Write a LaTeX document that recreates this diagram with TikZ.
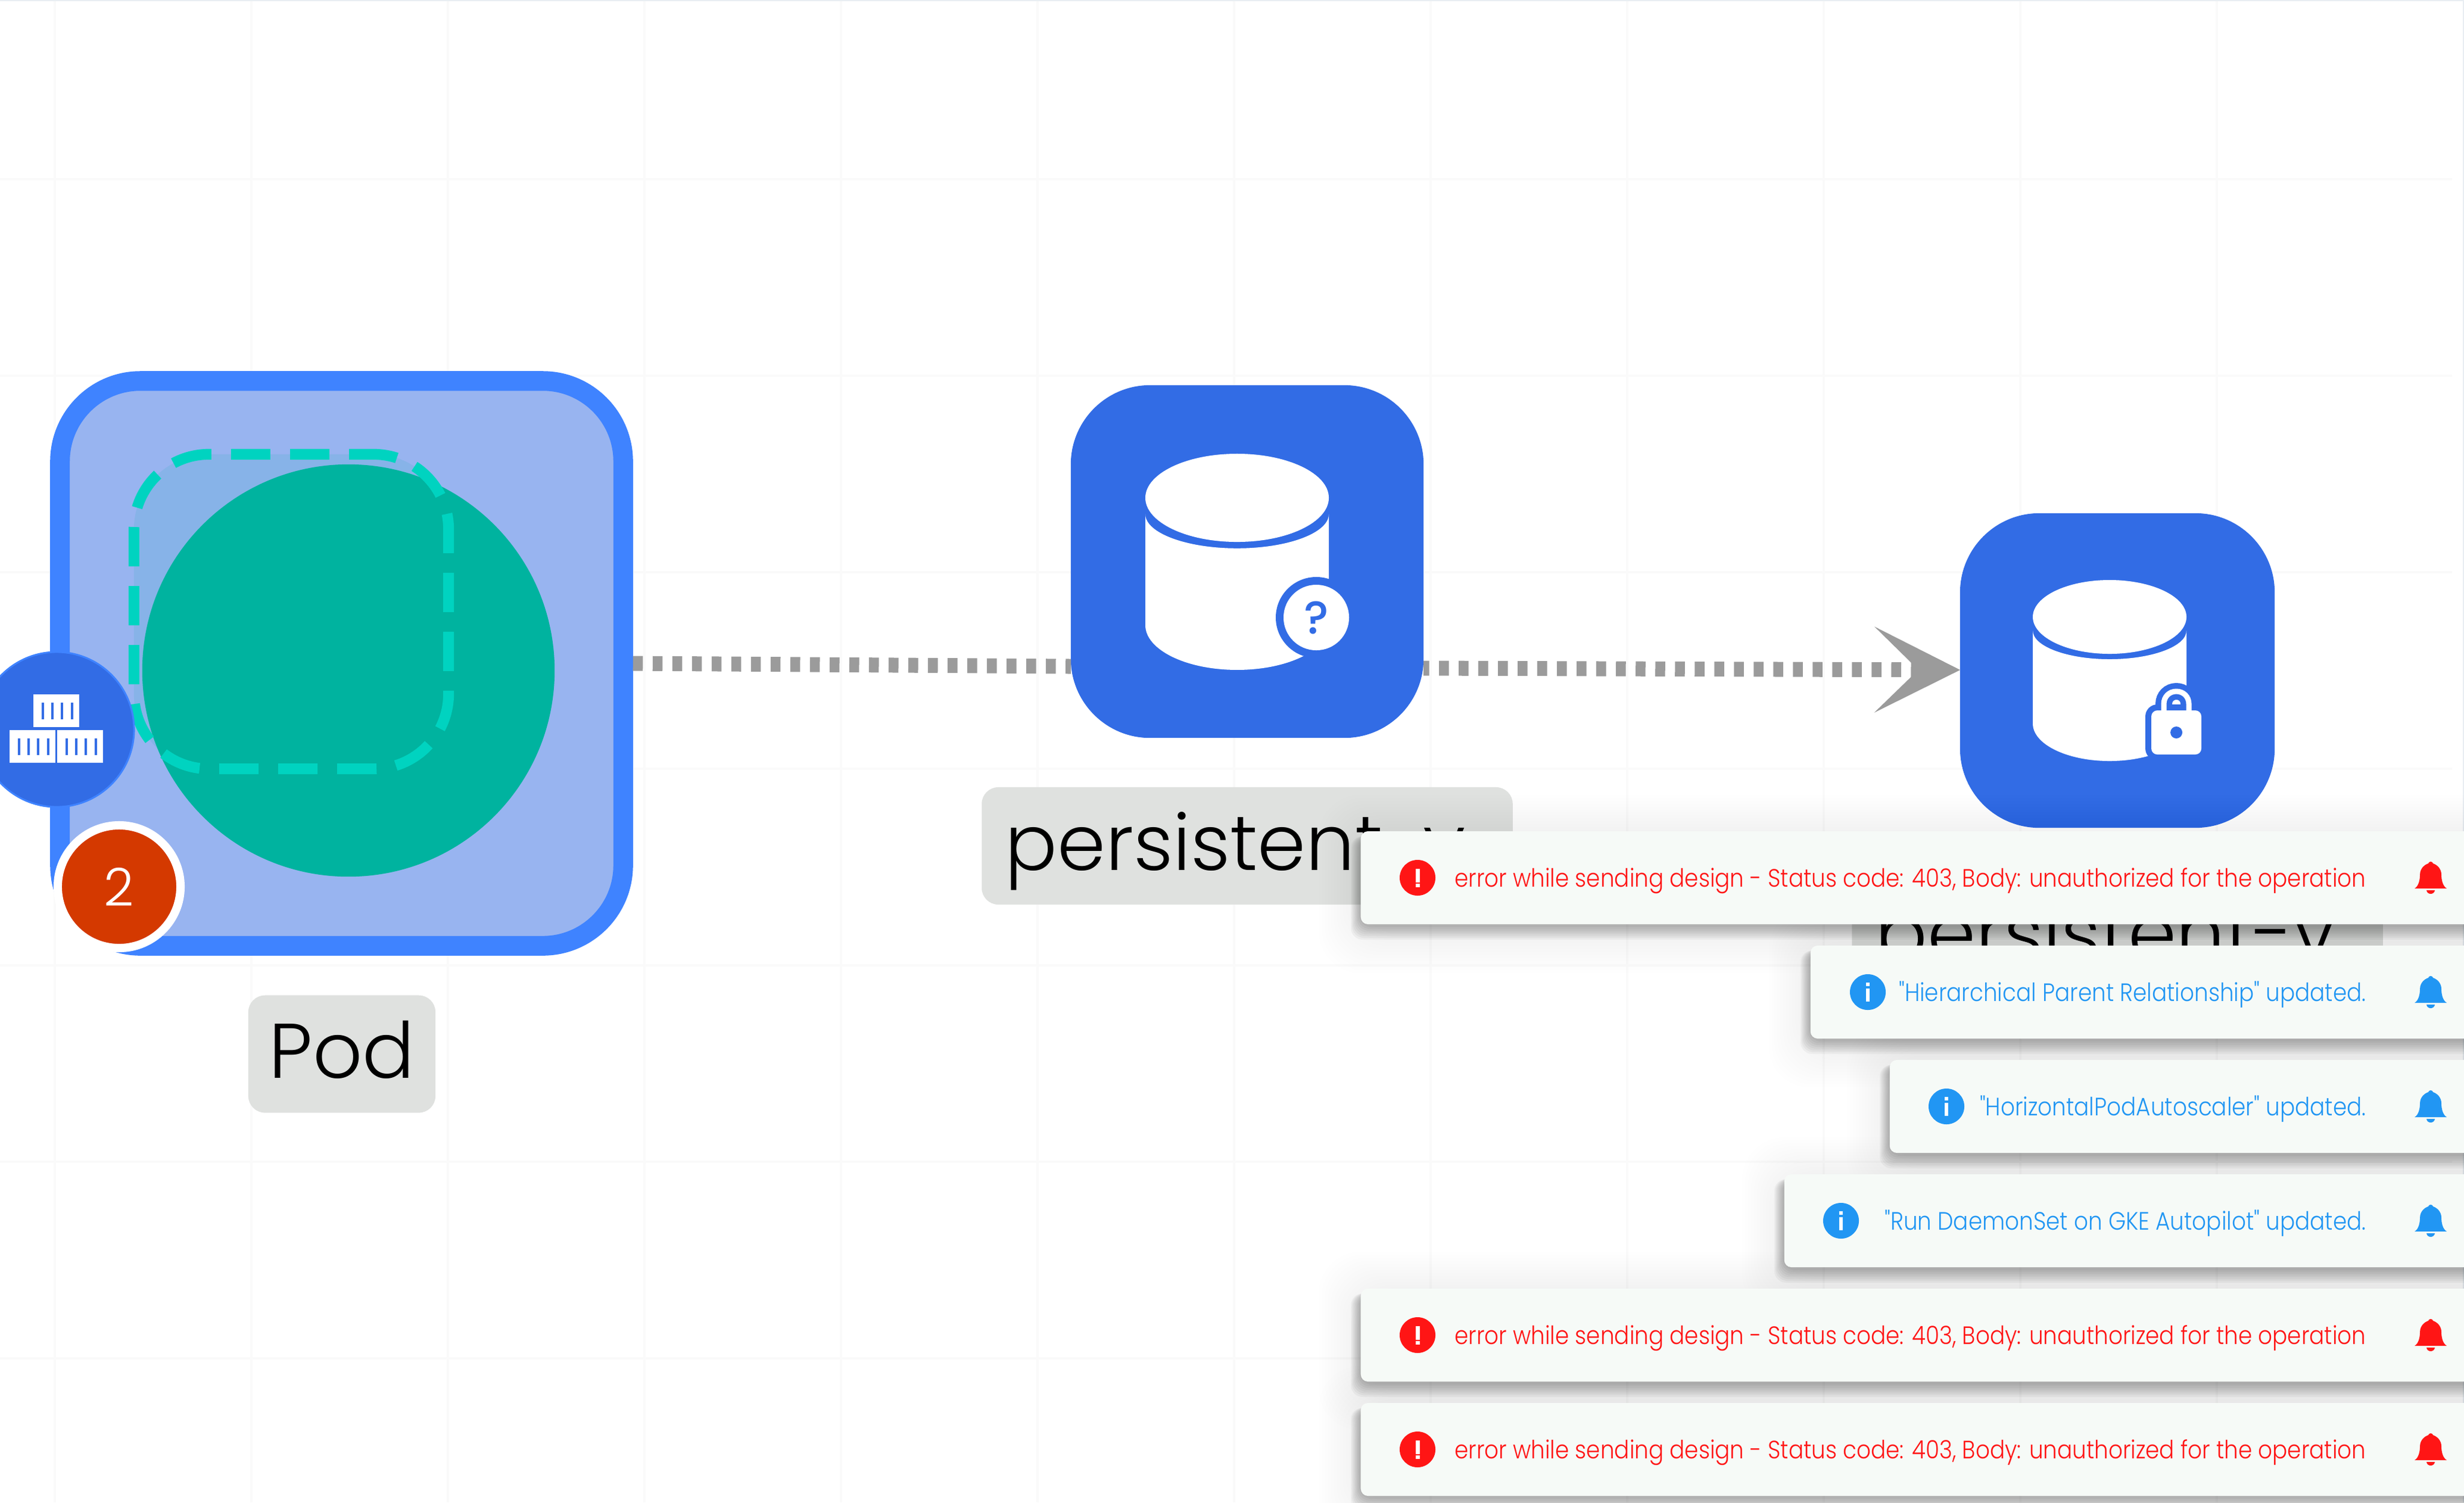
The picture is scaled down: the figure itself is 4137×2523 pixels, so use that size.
\documentclass[tikz,border=0pt]{standalone}
\usepackage{fontspec}
\usetikzlibrary{arrows.meta}
\setmainfont{Poppins Light}
\newfontfamily\toastfont[FakeStretch=0.885]{Poppins Light}
\newfontfamily\markfont{Poppins Medium}
\definecolor{podline}{HTML}{3F83FF}
\definecolor{podfill}{HTML}{98B4F0}
\definecolor{kubeblue}{HTML}{326CE5}
\definecolor{mintcircle}{HTML}{00B39F}
\definecolor{mintline}{HTML}{00D3C0}
\definecolor{groupfill}{HTML}{87B3E8}
\definecolor{labelgrey}{HTML}{DFE1DF}
\definecolor{linkgrey}{HTML}{9B9B9B}
\definecolor{badgered}{HTML}{D43900}
\definecolor{toastbg}{HTML}{F6FAF7}
\definecolor{errred}{HTML}{FF1515}
\definecolor{infoblue}{HTML}{2196F3}
\definecolor{gridline}{HTML}{FAFAFA}
\definecolor{edgeline}{HTML}{E9EEF2}
\tikzset{
  podbox/.style={rectangle,draw=podline,fill=podfill,line width=.33cm,rounded corners=1.35cm,minimum width=9.45cm,minimum height=9.48cm,inner sep=0pt},
  groupbox/.style={rectangle,fill=groupfill,rounded corners=1.26cm,minimum size=5.28cm,inner sep=0pt},
  groupdash/.style={rectangle,draw=mintline,line width=.18cm,rounded corners=1.26cm,minimum size=5.28cm,inner sep=0pt,dash pattern=on .66cm off .33cm,dash phase=.25cm},
  roundnode/.style={circle,fill=mintcircle,minimum size=6.92cm,inner sep=0pt},
  pvcbox/.style={rectangle,fill=kubeblue,rounded corners=1.33cm,inner sep=0pt},
  namebox/.style={rectangle,fill=labelgrey,rounded corners=.28cm,inner ysep=0pt,text height=1.39cm,text depth=.58cm,font=\fontsize{37}{37}\selectfont},
  link/.style={linkgrey,line width=.25cm,dash pattern=on .165cm off .165cm},
  toast/.style={rectangle,fill=toastbg,rounded corners=.12cm,minimum height=1.56cm,anchor=west,inner sep=0pt},
  toasttext/.style={anchor=base east,inner sep=0pt,font=\toastfont\fontsize{12}{12}\selectfont},
  haze/.style={black,fill opacity=.0042,rounded corners=.7cm},
  rim/.style={black,fill opacity=.035,rounded corners=.2cm},
}
\newcommand{\pvcicon}{%
  \fill[white] (0,0) ellipse [x radius=129,y radius=62];
  \fill[white] (-129,23) .. controls (-129,49.5) and (-71,71) .. (0,71) .. controls (71,71) and (129,49.5) .. (129,23)
    -- (129,179) .. controls (129,214) and (71,242) .. (0,242) .. controls (-71,242) and (-129,214) .. (-129,179) -- cycle;
}
\newcommand{\errmsg}{error while sending design - Status code: 403, Body: unauthorized for the operation}
\begin{document}
\begin{tikzpicture}[x=.01cm,y=-.01cm]
\useasboundingbox (0,0) rectangle (4137,2523);
\fill[white] (0,0) rectangle (4137,2523);

% grid
\foreach \gx in {92,422,...,3722} \draw[gridline,line width=.04cm] (\gx,0) -- (\gx,2523);
\foreach \gy in {301,631,...,2281} \draw[gridline,line width=.04cm] (0,\gy) -- (4117,\gy);
\draw[edgeline,line width=.04cm] (0,0) -- (4137,0) -- (4137,2523);

% pod
\node[podbox] (Pod1) at (573.5,1114) {};
\node[groupbox] (Group1) at (489,1027) {};
\node[roundnode] (Round1) at (585,1126) {};
\node[groupdash] (Group2) at (489,1027) {};
\node[circle,fill=kubeblue,draw=podline,line width=.03cm,minimum size=2.6cm,inner sep=0pt] (Ctr1) at (95,1225) {};
\foreach \cx/\cy in {56/1166,16/1226,96/1226} {
  \fill[white] (\cx,\cy) rectangle ++(77,55);
  \foreach \bx in {14,30,46,63} \fill[kubeblue] (\cx+\bx,\cy+14) rectangle ++(4,28);
}
\node[circle,fill=badgered,draw=white,line width=.14cm,minimum size=2.06cm,inner sep=0pt,text=white,font=\fontsize{25}{25}\selectfont] (Badge1) at (200,1489) {2};
\node[namebox,minimum width=3.14cm] (Name1) at (574,1770) {Pod};

% persistent volumes
\node[pvcbox,minimum size=5.92cm] (Pvc1) at (2094,943) {};
\begin{scope}[shift={(2077,836)},scale=1.194]
\pvcicon
\end{scope}
\fill[kubeblue] (2210,1037) circle (.68cm);
\node[circle,fill=white,minimum size=1.1cm,inner sep=0pt,text=kubeblue,font=\markfont\fontsize{22}{22}\selectfont] (Ask1) at (2210,1037) {?};
\node[namebox,text width=8.13cm,inner xsep=.39cm,align=left] (Name2) at (2094,1420.5) {persistent-v};

\node[pvcbox,minimum size=5.28cm] (Pvc2) at (3555,1126) {};
\begin{scope}[shift={(3542,1036)}]
\pvcicon
\end{scope}
\fill[kubeblue,rounded corners=.2cm] (3602,1183) rectangle (3706,1277);
\draw[kubeblue,line width=.28cm] (3633,1195) -- (3633,1182) .. controls (3633,1170) and (3642,1161) .. (3654,1161) .. controls (3666,1161) and (3675,1170) .. (3675,1182) -- (3675,1195);
\draw[white,line width=.09cm] (3633,1195) -- (3633,1182) .. controls (3633,1170) and (3642,1161) .. (3654,1161) .. controls (3666,1161) and (3675,1170) .. (3675,1182) -- (3675,1195);
\fill[white,rounded corners=.1cm] (3612,1193) rectangle (3696,1267);
\fill[kubeblue] (3654,1230) circle (.1cm);
\node[namebox,text width=8.13cm,inner xsep=.39cm,align=left] (Name3) at (3555,1571.5) {persistent-v};

% links
\coordinate (Join1) at (1798,1119);
\coordinate (Join2) at (2390,1122);
\coordinate (Join3) at (3291,1125);
\draw[link] (Pod1.east) -- (Join1);
\draw[link,dash phase=.07cm,-{Stealth[length=1.43cm,width=1.43cm,inset=.73cm]}] (Join2) -- (Join3);

% notification shadows
\foreach \ty/\tx in {1474/2284,1666/3039,1858/3172,2050/2995,2242/2284,2434/2284} {
  \foreach \s in {1,...,14} \fill[haze] (\tx-\s*5,\ty-70-\s*5) rectangle (4300,\ty+90+\s*5);
  \foreach \s in {1,...,8} \fill[rim] (\tx-\s*2,\ty-70) rectangle (4300,\ty+80+\s*3);
}

% notifications
\foreach \ty/\tx/\ix/\tc/\tmsg [count=\n] in {
  1474/2284/2380/errred/\errmsg,
  1666/3039/3136/infoblue/{"Hierarchical Parent Relationship" updated.},
  1858/3172/3268/infoblue/{"HorizontalPodAutoscaler" updated.},
  2050/2995/3091/infoblue/{"Run DaemonSet on GKE Autopilot" updated.},
  2242/2284/2380/errred/\errmsg,
  2434/2284/2380/errred/\errmsg} {
  \node[toast,minimum width={(4300-\tx)*.01cm}] (Toast\n) at (\tx,\ty) {};
  \node[circle,fill=\tc,minimum size=.6cm,inner sep=0pt] (Icon\n) at (\ix,\ty) {};
  \node[toasttext,text=\tc] (Msg\n) at (3973,\ty+15) {\tmsg};
  \fill[\tc,shift={(4081,\ty)}] (-27,18) .. controls (-20,14) and (-18,3) .. (-18,-5) .. controls (-18,-16) and (-10,-22) .. (-4,-24)
    .. controls (-3,-28) and (3,-28) .. (4,-24) .. controls (10,-22) and (18,-16) .. (18,-5) .. controls (18,3) and (20,14) .. (27,18) -- cycle;
  \fill[\tc,shift={(4081,\ty)}] (-7,21) .. controls (-6,29) and (6,29) .. (7,21) -- cycle;
}
% icon marks
\foreach \mx/\my in {2380/1474,2380/2242,2380/2434} {
  \fill[white] (\mx-3.5,\my-15) rectangle ++(7,23);
  \fill[white] (\mx-3.5,\my+10) rectangle ++(7,6);
}
\foreach \mx/\my in {3136/1666,3268/1858,3091/2050} {
  \fill[white] (\mx-3,\my-16) rectangle ++(6,6);
  \fill[white] (\mx-3,\my-6) rectangle ++(6,22);
}
\end{tikzpicture}
\end{document}
